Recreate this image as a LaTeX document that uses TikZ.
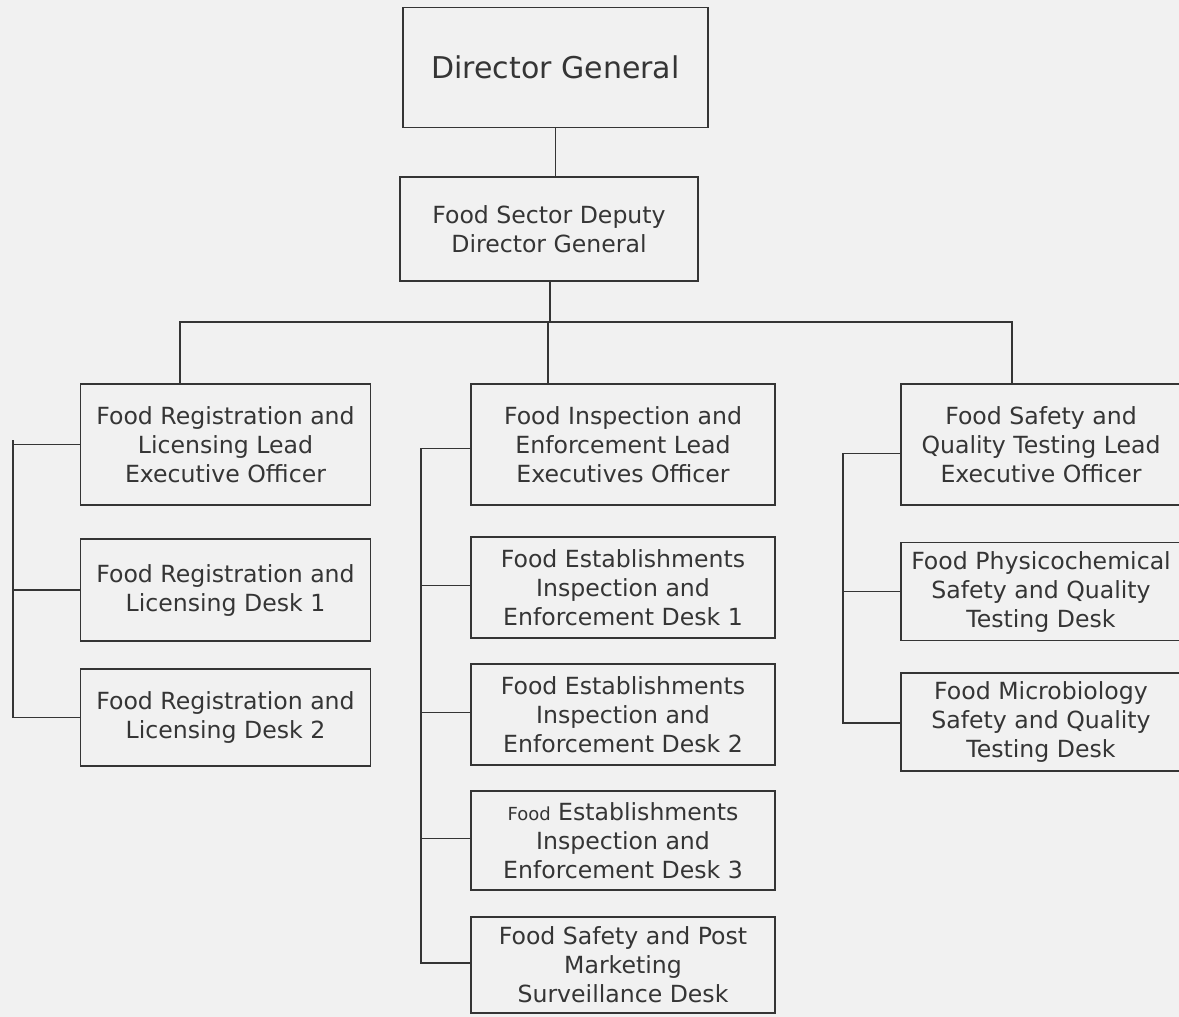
\documentclass[tikz,border=0pt]{standalone}
\usepackage{fontspec}
\setmainfont{DejaVu Sans}
\definecolor{ink}{HTML}{353535}
\definecolor{paper}{HTML}{F1F1F1}
\begin{document}
\begin{tikzpicture}[x=1pt,y=-1pt,
  box/.style={draw=ink, line width=1.5pt, rectangle, inner sep=0pt, align=center,
    text=ink, font=\fontsize{23.6}{29}\selectfont},
  conn/.style={draw=ink, line width=1.5pt}]
\fill[paper] (0,0) rectangle (1179,1017);
\useasboundingbox (0,0) rectangle (1179,1017);
\begin{scope}
\clip (0,0) rectangle (1179,1017);
% top
\node[box, minimum width=305pt, minimum height=120pt, font=\fontsize{30}{34}\selectfont] (dg) at (555.5,67.5) {Director General};
\node[box, minimum width=298pt, minimum height=104pt] (dep) at (549,229) {Food Sector Deputy\\Director General};
% left column
\node[box, minimum width=290pt, minimum height=121pt] (l0) at (225.5,444.5) {Food Registration and\\Licensing Lead\\Executive Officer};
\node[box, minimum width=290pt, minimum height=102pt] (l1) at (225.5,590) {Food Registration and\\Licensing Desk 1};
\node[box, minimum width=290pt, minimum height=97pt] (l2) at (225.5,717.5) {Food Registration and\\Licensing Desk 2};
% middle column
\node[box, minimum width=304pt, minimum height=121pt] (m0) at (623,444.5) {Food Inspection and\\Enforcement Lead\\Executives Officer};
\node[box, minimum width=304pt, minimum height=101pt] (m1) at (623,587.5) {Food Establishments\\Inspection and\\Enforcement Desk 1};
\node[box, minimum width=304pt, minimum height=101pt] (m2) at (623,714.5) {Food Establishments\\Inspection and\\Enforcement Desk 2};
\node[box, minimum width=304pt, minimum height=99pt] (m3) at (623,840.5) {{\fontsize{18}{29}\selectfont Food} Establishments\\Inspection and\\Enforcement Desk 3};
\node[box, minimum width=304pt, minimum height=96pt] (m4) at (623,965) {Food Safety and Post\\Marketing\\Surveillance Desk};
% right column
\node[box, minimum width=280pt, minimum height=121pt] (r0) at (1041,444.5) {Food Safety and\\Quality Testing Lead\\Executive Officer};
\node[box, minimum width=280pt, minimum height=98pt] (r1) at (1041,591.5) {Food Physicochemical\\Safety and Quality\\Testing Desk};
\node[box, minimum width=280pt, minimum height=98pt] (r2) at (1041,722) {Food Microbiology\\Safety and Quality\\Testing Desk};
% connectors top
\coordinate (busL) at (180,322);
\coordinate (busM) at (550,322);
\coordinate (busR) at (1012,322);
\draw[conn] (dg.south) -- (dg.south |- dep.north);
\draw[conn] (dep.south -| busM) -- (busM);
\draw[conn] (busL |- l0.north) -- (busL) -- (busR) -- (busR |- r0.north);
\draw[conn] (m0.north -| 548,0) -- (548,322);
% left bracket
\coordinate (lt) at (13,440);
\draw[conn] (lt) -- (lt |- l2.west) -- (l2.west);
\draw[conn] (lt |- l0.west) -- (l0.west);
\draw[conn] (lt |- l1.west) -- (l1.west);
% middle bracket
\coordinate (mt) at (421,0);
\draw[conn] ([yshift=-4pt]m0.west) -- ([yshift=-4pt]m0.west -| mt) -- ([yshift=2pt]m4.west -| mt) -- ([yshift=2pt]m4.west);
\draw[conn] ([yshift=2pt]m1.west -| mt) -- ([yshift=2pt]m1.west);
\draw[conn] ([yshift=2pt]m2.west -| mt) -- ([yshift=2pt]m2.west);
\draw[conn] ([yshift=2pt]m3.west -| mt) -- ([yshift=2pt]m3.west);
% right bracket
\coordinate (rt) at (843,0);
\draw[conn] ([yshift=-9pt]r0.west) -- ([yshift=-9pt]r0.west -| rt) -- ([yshift=-1pt]r2.west -| rt) -- ([yshift=-1pt]r2.west);
\draw[conn] (r1.west -| rt) -- (r1.west);
\end{scope}
\end{tikzpicture}
\end{document}
